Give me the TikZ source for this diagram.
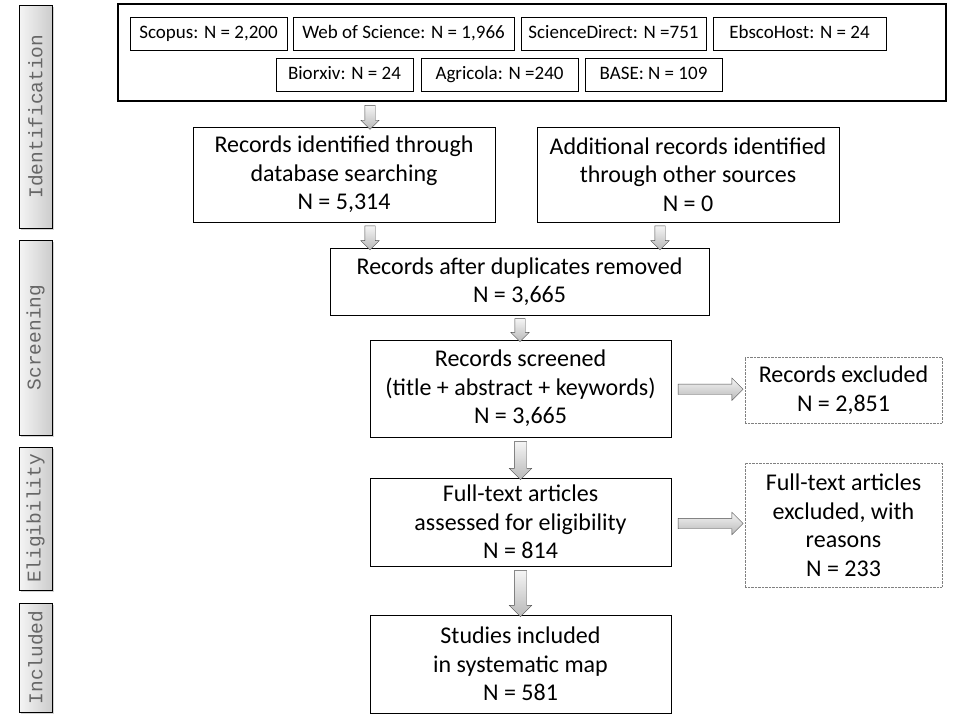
\documentclass[tikz,border=0pt]{standalone}
\usepackage{fontspec}
\setmainfont{Carlito}
\newfontfamily\phasefont{Liberation Mono}
\usetikzlibrary{shapes.arrows,shadows,calc}

\begin{document}
\begin{tikzpicture}[
        x=1pt, y=-1pt,
        font=\fontsize{24}{28.5}\selectfont,
        box/.style={draw=black, fill=white, align=center, inner sep=2pt},
        dbbox/.style={draw=black, fill=white, minimum height=33pt, inner sep=0pt, text height=13pt, text depth=4pt, font=\fontsize{19}{20}\selectfont},
        dotbox/.style={draw=gray, densely dotted, align=center, inner sep=2pt},
        phase/.style={draw=black, minimum width=33pt, inner sep=0pt,
            left color=gray!8, right color=gray!40,
            drop shadow={opacity=0.35, shadow xshift=1.5pt, shadow yshift=-1.5pt},
            text=black!60, font=\phasefont\fontsize{19.5}{20}\selectfont},
        blockarr/.style={single arrow, draw=gray!60!black, inner sep=5pt,
            top color=gray!8, bottom color=gray!55, single arrow head extend=4pt},
        downarr/.style={blockarr, shape border rotate=270},
        bigdownarr/.style={blockarr, shape border rotate=270, inner sep=6pt, single arrow head extend=5pt},
        rightarr/.style={blockarr, minimum height=65pt, single arrow head extend=6pt},
    ]
    \useasboundingbox (0,0) rectangle (960,720);

    %====================== fases (esquerda) ======================
    \node[phase, minimum height=223pt] (ph-id)   at (35.5, 116.5) {\rotatebox{90}{Identification}};
    \node[phase, minimum height=195pt] (ph-scr)  at (35.5, 337.5) {\rotatebox{90}{Screening}};
    \node[phase, minimum height=143pt] (ph-elig) at (35.5, 518.5) {\rotatebox{90}{Eligibility}};
    \node[phase, minimum height=109pt] (ph-inc)  at (35.5, 657.5) {\rotatebox{90}{Included}};

    %====================== bases de dados ======================
    \node[draw=black, line width=2.5pt, minimum width=828pt, minimum height=97pt] (sources) at (532, 52.5) {};
    \node[dbbox, minimum width=157pt] (db-scopus) at (208.5, 33.5) {Scopus: N = 2,200};
    \node[dbbox, minimum width=221pt] (db-wos)    at (403.5, 33.5) {Web of Science: N = 1,966};
    \node[dbbox, minimum width=185pt] (db-sd)     at (613.5, 33.5) {ScienceDirect: N =751};
    \node[dbbox, minimum width=173pt] (db-ebsco)  at (799.5, 33.5) {EbscoHost: N = 24};
    \node[dbbox, minimum width=137pt] (db-bio)    at (344.5, 75) {Biorxiv: N = 24};
    \node[dbbox, minimum width=157pt] (db-agri)   at (499.5, 75) {Agricola: N =240};
    \node[dbbox, minimum width=137pt] (db-base)   at (653.5, 75) {BASE: N = 109};

    %====================== fluxo ======================
    \node[box, minimum width=302pt, minimum height=95pt] (dbsearch) at (344, 174.5) {Records identified through\\database searching\\N = 5,314};
    \node[box, minimum width=302pt, minimum height=95pt] (other)    at (688, 174.5) {Additional records identified\\through other sources\\N = 0};
    \node[box, minimum width=379pt, minimum height=67pt] (dedup)    at (519.5, 281.5) {Records after duplicates removed\\N = 3,665};
    \node[box, minimum width=301pt, minimum height=97pt] (scrn)     at (520.5, 388.5) {Records screened\\(title + abstract + keywords)\\N = 3,665};
    \node[dotbox, minimum width=197pt, minimum height=66pt] (excl)  at (843.5, 390) {Records excluded\\N = 2,851};
    \node[box, minimum width=301pt, minimum height=88pt] (full)     at (520.5, 522) {Full-text articles\\assessed for eligibility\\N = 814};
    \node[dotbox, minimum width=197pt, minimum height=124pt] (fullexcl) at (843.5, 525) {Full-text articles\\excluded, with\\reasons\\N = 233};
    \node[box, minimum width=301pt, minimum height=98pt] (incl)     at (520.5, 664) {Studies included\\in systematic map\\N = 581};

    %====================== setas ======================
    \node[downarr, minimum height=24pt] (arr-src)   at ($(dbsearch.north)+(26,-12)$) {};
    \node[downarr, minimum height=24pt] (arr-db)    at ($(dbsearch.south)+(26,13)$) {};
    \node[downarr, minimum height=24pt] (arr-oth)   at ($(other.south)+(-28,13)$) {};
    \node[downarr, minimum height=23pt] (arr-dedup) at ($(dedup.south)!0.5!(scrn.north)$) {};
    \node[rightarr] (arr-excl)     at ($(scrn.east)!0.5!(excl.west)$) {};
    \node[bigdownarr, minimum height=38pt] (arr-scrn) at ($(scrn.south)!0.5!(full.north)$) {};
    \node[rightarr] (arr-fullexcl) at ($(full.east)!0.5!(fullexcl.west)$) {};
    \node[bigdownarr, minimum height=46pt] (arr-full) at ($(full.south)!0.5!(incl.north)$) {};

\end{tikzpicture}
\end{document}
